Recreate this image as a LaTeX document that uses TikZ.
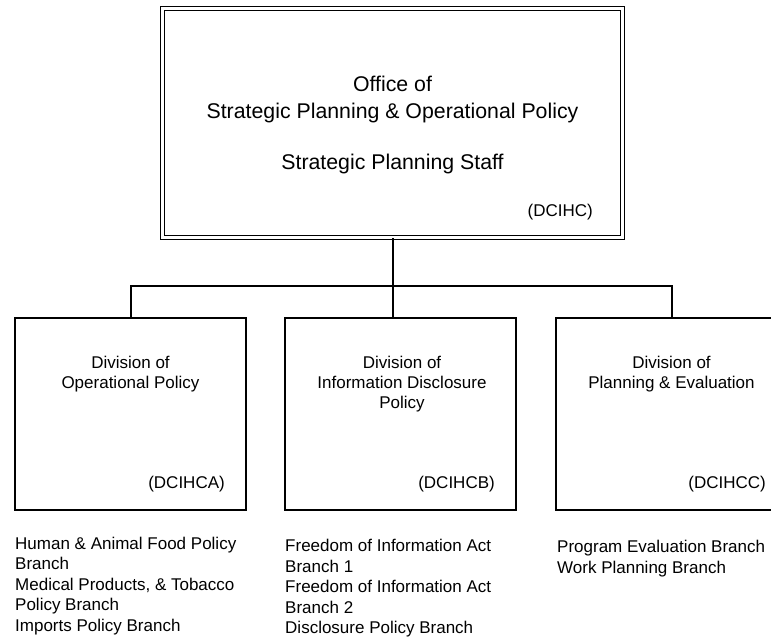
\documentclass[tikz,border=0pt]{standalone}
\usepackage{fontspec}
\setmainfont{Liberation Sans}
\begin{document}
\begin{tikzpicture}[x=1pt,y=-1pt,
  topbox/.style={draw=black,line width=1.6pt,double=white,double distance=2.2pt,inner sep=0pt},
  divbox/.style={draw=black,line width=2.2pt,inner sep=0pt,minimum width=231pt,minimum height=192pt},
  conn/.style={draw=black,line width=2pt},
  bigtxt/.style={inner sep=0pt,font=\fontsize{21.3}{27}\selectfont,align=center},
  divtxt/.style={inner sep=0pt,font=\fontsize{17}{20}\selectfont,align=center},
  codetxt/.style={inner sep=0pt,font=\fontsize{17}{20}\selectfont,anchor=base east},
  listtxt/.style={inner sep=0pt,font=\fontsize{17}{20.6}\selectfont,align=left,anchor=north west}
]
\useasboundingbox (0,0) rectangle (771,639);
% top box
\node[topbox,minimum width=460pt,minimum height=229pt] (top) at (392.5,123) {};
\node[bigtxt,anchor=north] (t1) at (392.5,76.2) {Office of\\Strategic Planning \& Operational Policy};
\node[bigtxt,anchor=base] (t2) at (392.5,169.5) {Strategic Planning Staff};
\node[inner sep=0pt,font=\fontsize{17}{20}\selectfont,anchor=base east] (t3) at (593,217) {(DCIHC)};
% division boxes
\node[divbox] (b1) at (130.5,414) {};
\node[divbox] (b2) at (400.5,414) {};
\node[divbox] (b3) at (671.5,414) {};
\node[divtxt,anchor=north] (d1) at (130.5,355.6) {Division of\\Operational Policy};
\node[divtxt,anchor=north] (d2) at (402,355.6) {Division of\\Information Disclosure\\Policy};
\node[divtxt,anchor=north] (d3) at (671.5,355.6) {Division of\\Planning \& Evaluation};
\node[codetxt] (c1) at (225,488) {(DCIHCA)};
\node[codetxt] (c2) at (495,488) {(DCIHCB)};
\node[codetxt] (c3) at (766,488) {(DCIHCC)};
% branch lists
\node[listtxt] (l1) at (15,536.6) {Human \& Animal Food Policy\\Branch\\Medical Products, \& Tobacco\\Policy Branch\\Imports Policy Branch};
\node[listtxt] (l2) at (285,539) {Freedom of Information Act\\Branch 1\\Freedom of Information Act\\Branch 2\\Disclosure Policy Branch};
\node[listtxt] (l3) at (557,540) {Program Evaluation Branch\\Work Planning Branch};
% connectors
\coordinate (j) at (392.5,285.5);
\draw[conn] (j |- top.south) -- (j);
\draw[conn] (b1.north) -- (b1.north |- j) -- (b3.north |- j) -- (b3.north);
\draw[conn] (j) -- (j |- b2.north);
\end{tikzpicture}
\end{document}
